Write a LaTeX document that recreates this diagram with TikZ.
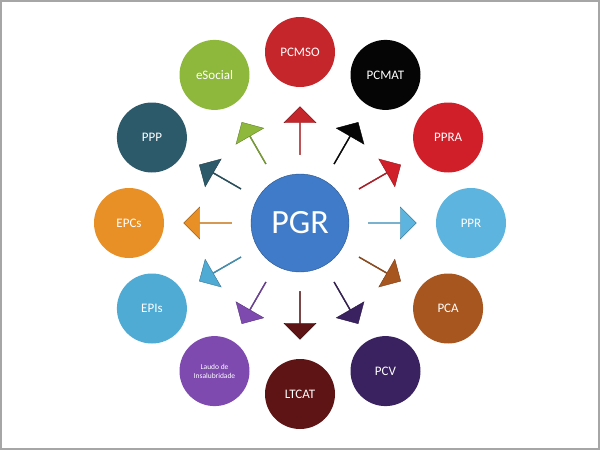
\documentclass[tikz,border=0pt]{standalone}
\usepackage{fontspec}
\setmainfont{Carlito}
\usetikzlibrary{shapes.arrows,calc}
\definecolor{cPCMSO}{HTML}{C4262B}
\definecolor{cPCMAT}{HTML}{050505}
\definecolor{cPPRA}{HTML}{D11F2A}
\definecolor{cPPR}{HTML}{5DB4DE}
\definecolor{cPCA}{HTML}{A8561F}
\definecolor{cPCV}{HTML}{3A2160}
\definecolor{cLTCAT}{HTML}{5E1414}
\definecolor{cLaudo}{HTML}{7E4AB0}
\definecolor{cEPIs}{HTML}{4FAAD4}
\definecolor{cEPCs}{HTML}{E88F26}
\definecolor{cPPP}{HTML}{2C5A6B}
\definecolor{cESocial}{HTML}{8DB83C}
\definecolor{cPGR}{HTML}{3F7BC8}
\begin{document}
\begin{tikzpicture}[x=1pt,y=1pt,
  outer/.style={circle,minimum size=70pt,inner sep=0pt,text=white,font=\fontsize{13}{14}\selectfont,align=center},
  small/.style={font=\fontsize{7.5}{9}\selectfont},
  barrow/.style={single arrow,minimum height=48pt,minimum width=32pt,single arrow head extend=6pt,single arrow tip angle=90,inner sep=0pt,fill=#1,draw=#1!70!black}]
\useasboundingbox (0,-450) rectangle (600,0);
\draw[gray!70,line width=1.2pt] (1,-1) rectangle (599,-449);
\node[circle,minimum size=98pt,fill=cPGR,draw=cPGR!70!black,text=white,font=\fontsize{34}{36}\selectfont] (pgr) at (300,-223) {PGR};
\foreach \n/\c/\t/\s [count=\i from 0] in {
  pcmso/cPCMSO/PCMSO/, pcmat/cPCMAT/PCMAT/, ppra/cPPRA/PPRA/, ppr/cPPR/PPR/,
  pca/cPCA/PCA/, pcv/cPCV/PCV/, ltcat/cLTCAT/LTCAT/, laudo/cLaudo/{Laudo de\\Insalubridade}/small,
  epis/cEPIs/EPIs/, epcs/cEPCs/EPCs/, ppp/cPPP/PPP/, esocial/cESocial/eSocial/}{
  \pgfmathsetmacro{\ang}{90-30*\i}
  \node[outer,fill=\c,\s] (\n) at ($(pgr.center)+(\ang:171)$) {\t};
  \node[barrow=\c,rotate=\ang] (a\n) at ($(pgr.center)+(\ang:92)$) {};
}
\end{tikzpicture}
\end{document}
